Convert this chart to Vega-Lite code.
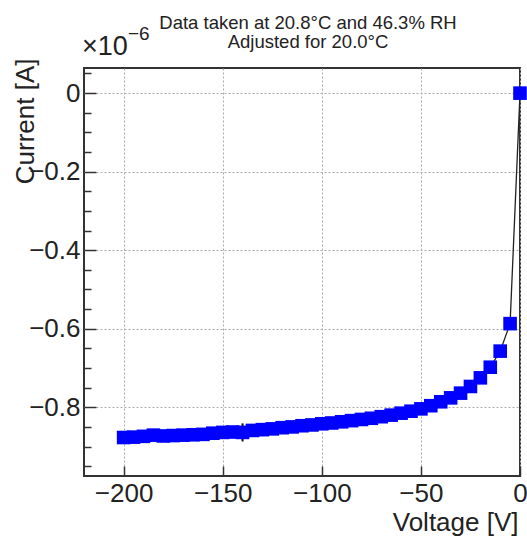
{
  "$schema": "https://vega.github.io/schema/vega-lite/v6.json",
  "width": 436,
  "height": 408,
  "autosize": {"type": "none"},
  "padding": {"left": 84, "top": 68, "right": 7, "bottom": 62},
  "background": "white",
  "title": {
    "text": ["Data taken at 20.8°C and 46.3% RH", "Adjusted for 20.0°C"],
    "font": "Liberation Sans",
    "fontSize": 18.5,
    "fontWeight": "normal",
    "color": "#222",
    "anchor": "middle",
    "frame": "group",
    "dx": 6,
    "dy": 26,
    "offset": 0,
    "lineHeight": 19
  },
  "config": {
    "view": {"stroke": "#333", "strokeWidth": 2},
    "axis": {
      "labelFont": "Liberation Sans",
      "titleFont": "Liberation Sans",
      "labelFontSize": 26,
      "titleFontSize": 26,
      "labelColor": "#222",
      "titleColor": "#222",
      "titleFontWeight": "normal",
      "domain": false,
      "tickColor": "#333",
      "tickWidth": 1.5,
      "gridColor": "#aaa",
      "gridDash": [2, 2],
      "gridWidth": 1
    }
  },
  "resolve": {"axis": {"y": "independent"}},
  "data": {
    "values": [
      {"voltage": -200, "current": -0.877, "lo": -0.882, "hi": -0.872},
      {"voltage": -195, "current": -0.876, "lo": -0.881, "hi": -0.871},
      {"voltage": -190, "current": -0.874, "lo": -0.879, "hi": -0.869},
      {"voltage": -185, "current": -0.871, "lo": -0.876, "hi": -0.866},
      {"voltage": -180, "current": -0.873, "lo": -0.878, "hi": -0.868},
      {"voltage": -175, "current": -0.872, "lo": -0.877, "hi": -0.867},
      {"voltage": -170, "current": -0.871, "lo": -0.876, "hi": -0.866},
      {"voltage": -165, "current": -0.870, "lo": -0.875, "hi": -0.865},
      {"voltage": -160, "current": -0.869, "lo": -0.874, "hi": -0.864},
      {"voltage": -155, "current": -0.866, "lo": -0.871, "hi": -0.861},
      {"voltage": -150, "current": -0.864, "lo": -0.869, "hi": -0.859},
      {"voltage": -145, "current": -0.863, "lo": -0.868, "hi": -0.858},
      {"voltage": -140, "current": -0.864, "lo": -0.887, "hi": -0.841},
      {"voltage": -135, "current": -0.859, "lo": -0.864, "hi": -0.854},
      {"voltage": -130, "current": -0.857, "lo": -0.862, "hi": -0.852},
      {"voltage": -125, "current": -0.855, "lo": -0.860, "hi": -0.850},
      {"voltage": -120, "current": -0.852, "lo": -0.857, "hi": -0.847},
      {"voltage": -115, "current": -0.850, "lo": -0.855, "hi": -0.845},
      {"voltage": -110, "current": -0.847, "lo": -0.852, "hi": -0.842},
      {"voltage": -105, "current": -0.845, "lo": -0.850, "hi": -0.840},
      {"voltage": -100, "current": -0.842, "lo": -0.847, "hi": -0.837},
      {"voltage": -95, "current": -0.840, "lo": -0.845, "hi": -0.835},
      {"voltage": -90, "current": -0.837, "lo": -0.842, "hi": -0.832},
      {"voltage": -85, "current": -0.834, "lo": -0.839, "hi": -0.829},
      {"voltage": -80, "current": -0.831, "lo": -0.836, "hi": -0.826},
      {"voltage": -75, "current": -0.828, "lo": -0.833, "hi": -0.823},
      {"voltage": -70, "current": -0.824, "lo": -0.829, "hi": -0.819},
      {"voltage": -65, "current": -0.820, "lo": -0.825, "hi": -0.815},
      {"voltage": -60, "current": -0.815, "lo": -0.820, "hi": -0.810},
      {"voltage": -55, "current": -0.810, "lo": -0.815, "hi": -0.805},
      {"voltage": -50, "current": -0.804, "lo": -0.809, "hi": -0.799},
      {"voltage": -45, "current": -0.796, "lo": -0.801, "hi": -0.791},
      {"voltage": -40, "current": -0.786, "lo": -0.791, "hi": -0.781},
      {"voltage": -35, "current": -0.776, "lo": -0.781, "hi": -0.771},
      {"voltage": -30, "current": -0.764, "lo": -0.769, "hi": -0.759},
      {"voltage": -25, "current": -0.747, "lo": -0.752, "hi": -0.742},
      {"voltage": -20, "current": -0.725, "lo": -0.730, "hi": -0.720},
      {"voltage": -15, "current": -0.698, "lo": -0.703, "hi": -0.693},
      {"voltage": -10, "current": -0.657, "lo": -0.662, "hi": -0.652},
      {"voltage": -5, "current": -0.587, "lo": -0.592, "hi": -0.582},
      {"voltage": 0, "current": 0.0, "lo": -0.005, "hi": 0.005}
    ]
  },
  "layer": [
    {
      "mark": {"type": "point", "opacity": 0},
      "encoding": {
        "x": {
          "field": "voltage",
          "type": "quantitative",
          "scale": {"domain": [-220, 0], "nice": false, "zero": false},
          "axis": {
            "values": [-200, -150, -100, -50, 0],
            "format": "d",
            "tickSize": -10,
            "labelPadding": 14,
            "labelFlush": false,
            "title": "Voltage [V]",
            "titleAnchor": "end",
            "titleAlign": "right",
            "titleBaseline": "alphabetic",
            "titleX": 434,
            "titleY": 54
          }
        },
        "y": {
          "field": "current",
          "type": "quantitative",
          "scale": {"domain": [-0.975, 0.064], "nice": false, "zero": false},
          "axis": {
            "orient": "left",
            "values": [0.05, -0.05, -0.1, -0.15, -0.25, -0.3, -0.35, -0.45, -0.5, -0.55, -0.65, -0.7, -0.75, -0.85, -0.9, -0.95],
            "labels": false,
            "grid": false,
            "tickSize": -7,
            "title": null
          }
        }
      }
    },
    {
      "layer": [
        {
          "mark": {"type": "line", "color": "#222", "strokeWidth": 1.3},
          "encoding": {
            "x": {"field": "voltage", "type": "quantitative"},
            "y": {
              "field": "current",
              "type": "quantitative",
              "axis": {
                "orient": "left",
                "values": [0, -0.2, -0.4, -0.6, -0.8],
                "format": ".1~f",
                "grid": true,
                "tickSize": -12,
                "labelPadding": 16,
                "labelFlush": false,
                "title": "Current [A]",
                "titleAnchor": "end",
                "titleAlign": "right",
                "titleBaseline": "alphabetic",
                "titleAngle": -90,
                "titleX": -51,
                "titleY": -10
              }
            }
          }
        },
        {
          "mark": {"type": "rule", "color": "#111", "strokeWidth": 2},
          "encoding": {
            "x": {"field": "voltage", "type": "quantitative"},
            "y": {"field": "lo", "type": "quantitative"},
            "y2": {"field": "hi"}
          }
        },
        {
          "mark": {"type": "square", "size": 185, "color": "#0000ff", "opacity": 1, "filled": true},
          "encoding": {
            "x": {"field": "voltage", "type": "quantitative"},
            "y": {"field": "current", "type": "quantitative"}
          }
        },
        {
          "data": {"values": [{"label": "×10"}]},
          "mark": {"type": "text", "font": "Liberation Sans", "fontSize": 27, "color": "#222", "align": "left", "baseline": "alphabetic", "dx": -2, "dy": -13},
          "encoding": {
            "x": {"datum": -220, "type": "quantitative"},
            "y": {"datum": 0.064, "type": "quantitative"},
            "text": {"field": "label"}
          }
        },
        {
          "data": {"values": [{"label": "−6"}]},
          "mark": {"type": "text", "font": "Liberation Sans", "fontSize": 19, "color": "#222", "align": "left", "baseline": "alphabetic", "dx": 44, "dy": -28},
          "encoding": {
            "x": {"datum": -220, "type": "quantitative"},
            "y": {"datum": 0.064, "type": "quantitative"},
            "text": {"field": "label"}
          }
        }
      ]
    }
  ]
}
